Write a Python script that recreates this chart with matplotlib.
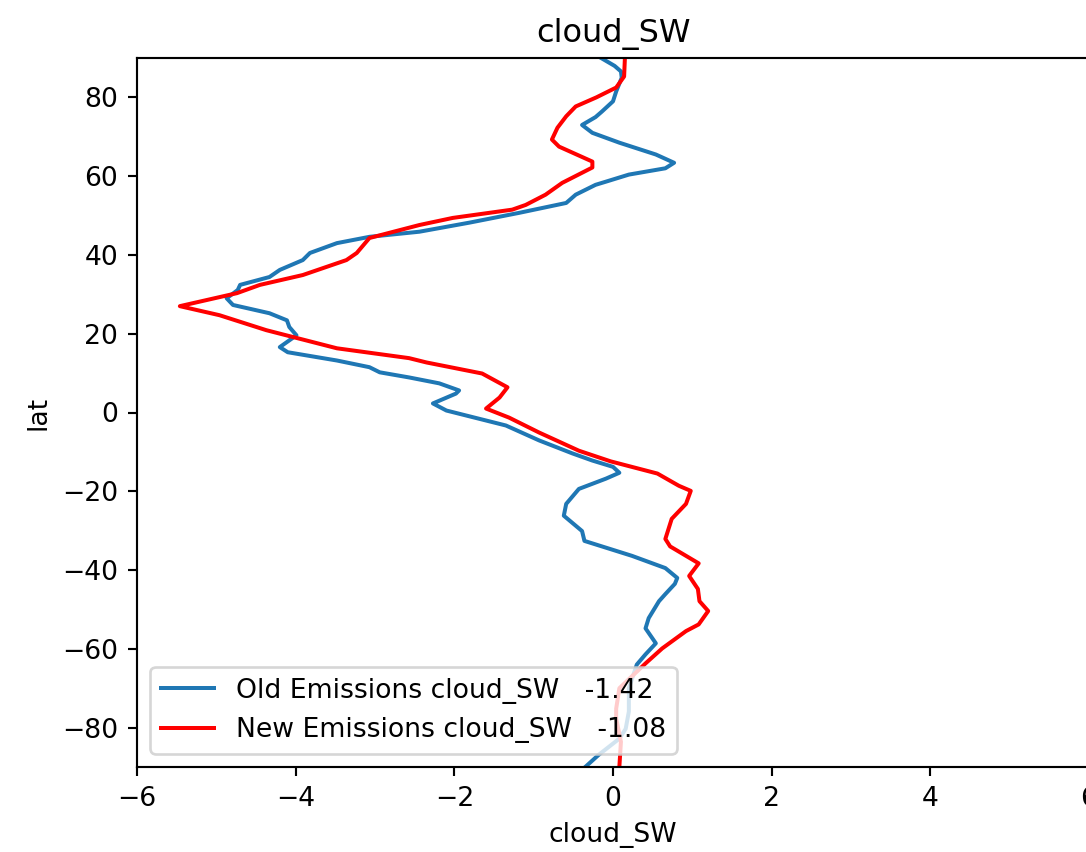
# cloud_SW zonal mean : old vs new emissions
import numpy as np
import matplotlib
matplotlib.use('Agg')
import matplotlib.pyplot as plt

# Old emissions (lat, cloud_SW)
lat_old = [90, 88, 86.6, 85, 81.5, 79, 76.4, 75, 73, 71, 68.5, 65.5, 63.4, 62, 60.4,
           58.6, 57.8, 55.3, 53.2, 50.7, 48.2, 45.9, 44.6, 43, 40.5, 38.7, 36.2, 34.4,
           32.4, 31.1, 29, 27.3, 25.2, 23.4, 21.7, 19.6, 16.6, 15.3, 13.2, 11.5, 10.2,
           8.9, 7.4, 5.6, 4.8, 2.3, 0.5, -3.3, -7.1, -10.4, -12.2, -13.8, -15.3, -16.8,
           -19.4, -23.2, -26.2, -30.1, -32.6, -36.4, -39.5, -42, -43.5, -46.1, -47.9,
           -52.2, -54.8, -58.6, -61.4, -64, -70, -75.9, -80.3, -82.8, -86.9, -90]
sw_old = [-0.15, 0.02, 0.10, 0.11, 0.04, 0.0, -0.14, -0.22, -0.39, -0.26, 0.08, 0.54,
          0.77, 0.66, 0.2, -0.09, -0.22, -0.47, -0.59, -1.18, -1.81, -2.44, -3.07,
          -3.48, -3.82, -3.91, -4.2, -4.33, -4.7, -4.73, -4.87, -4.79, -4.33, -4.11,
          -4.08, -3.99, -4.2, -4.1, -3.48, -3.07, -2.94, -2.57, -2.19, -1.94, -1.98,
          -2.27, -2.1, -1.35, -0.93, -0.51, -0.26, 0.0, 0.08, -0.09, -0.43, -0.59,
          -0.62, -0.39, -0.36, 0.24, 0.66, 0.81, 0.78, 0.66, 0.58, 0.45, 0.41, 0.54,
          0.41, 0.3, 0.2, 0.2, 0.16, 0.08, -0.18, -0.35]

# New emissions (lat, cloud_SW)
lat_new = [90, 85.3, 82.5, 80, 77.7, 75.2, 72.3, 69.3, 67.5, 63.7, 62.2, 58.3, 55.3,
           52.7, 51.5, 49.4, 47.6, 44.3, 40.5, 38.7, 34.9, 32.4, 30.3, 27, 24.7, 20.9,
           16.3, 13.8, 12.7, 9.9, 6.4, 3.8, 1.0, -1.3, -5.1, -9.7, -12.4, -15.5, -18.6,
           -19.9, -23.2, -27, -32.1, -34, -38.3, -41.5, -44.8, -47.9, -50.4, -53.8,
           -55.5, -59.9, -63.7, -70, -75.2, -77.7, -83.6, -90]
sw_new = [0.15, 0.14, 0.04, -0.21, -0.47, -0.59, -0.7, -0.77, -0.68, -0.26, -0.26,
          -0.64, -0.85, -1.1, -1.27, -2.02, -2.44, -3.07, -3.23, -3.36, -3.91, -4.45,
          -4.74, -5.46, -4.96, -4.37, -3.48, -2.57, -2.35, -1.65, -1.33, -1.43, -1.6,
          -1.31, -0.93, -0.43, -0.03, 0.56, 0.83, 0.98, 0.92, 0.74, 0.66, 0.72, 1.08,
          0.96, 1.07, 1.09, 1.2, 1.08, 0.92, 0.62, 0.41, 0.08, 0.04, 0.04, 0.1, 0.08]

mean_old = -1.42
mean_new = -1.08

fig = plt.figure(figsize=(1086 / 192, 852 / 192), dpi=192)
ax = fig.add_axes([137 / 1086, 85 / 852, 952 / 1086, 709 / 852])

ax.plot(sw_old, lat_old, color='tab:blue', label='Old Emissions cloud_SW   {:.2f}'.format(mean_old))
ax.plot(sw_new, lat_new, color='red', label='New Emissions cloud_SW   {:.2f}'.format(mean_new))

ax.set_xlim(-6, 6)
ax.set_ylim(-90, 90)
ax.set_xlabel('cloud_SW')
ax.set_ylabel('lat')
ax.set_title('cloud_SW')
ax.legend(loc='lower left')

fig.savefig('out.png', dpi=192)
